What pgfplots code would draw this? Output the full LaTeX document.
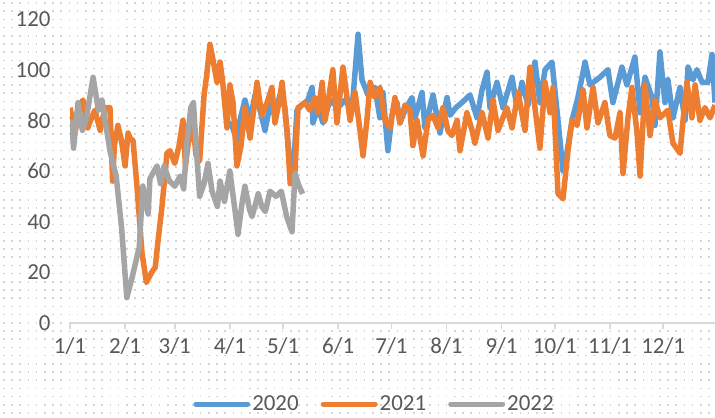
\documentclass[border=0pt]{standalone}
\usepackage{pgfplots}
\pgfplotsset{compat=1.18}
\usepackage{fontspec}
\setmainfont{Carlito}
\definecolor{c2020}{HTML}{5B9BD5}
\definecolor{c2021}{HTML}{ED7D31}
\definecolor{c2022}{HTML}{A5A5A5}
\definecolor{txt}{HTML}{595959}
\definecolor{axl}{HTML}{D9D9D9}
\definecolor{dotc}{HTML}{D4D4D4}
\begin{document}
\begin{tikzpicture}[x=1bp,y=1bp]
\useasboundingbox (0,0) rectangle (715,417);
\fill[white] (0,0) rectangle (715,417);
\foreach \r in {0,...,51}{
  \draw[dotc, line width=1.6bp, dash pattern=on 1.6bp off 6.6bp] (3,{4+\r*8.2}) -- (715,{4+\r*8.2});
}
\begin{axis}[
  at={(70bp,94bp)}, anchor=south west,
  scale only axis, width=645bp, height=304bp,
  xmin=0, xmax=363.2, ymin=0, ymax=120,
  axis lines=left,
  x axis line style={axl, line width=1.5bp, -},
  y axis line style={draw=none},
  xtick={0,31,59,90,120,151,181,212,243,273,304,334},
  xticklabels={1/1,2/1,3/1,4/1,5/1,6/1,7/1,8/1,9/1,10/1,11/1,12/1},
  ytick={0,20,40,60,80,100,120},
  tick align=outside,
  x tick style={axl, line width=1.5bp},
  major tick length=6bp,
  y tick style={draw=none},
  tick label style={font=\fontsize{23}{27}\selectfont, text=txt},
  /pgf/number format/assume math mode=true,
  yticklabel style={anchor=east, xshift=-10bp},
  xticklabel style={yshift=-5bp},
  legend columns=3,
  legend style={draw=none, fill=none, at={(0.472,0)}, anchor=center, yshift=-81bp,
    font=\fontsize{23}{27}\selectfont, text=txt, inner sep=0pt,
    nodes={inner sep=2bp},
    /tikz/every even column/.append style={column sep=20bp}},
  legend image code/.code={\draw[#1, line width=5bp, line cap=round] (0bp,0bp) -- (52bp,0bp);},
  every axis plot/.append style={line width=5.5bp, line join=round},
]
\addplot[c2020] coordinates {
(87.3,80)(91.2,78)(94,72)(95.7,80)(98.5,88)(101.4,80)(104.2,90)(107,84)(109.8,76)(112.6,86)(115.4,82)(118.2,90)(121,85)(123.9,62)(125.6,58)(127.8,84)(130.6,86)(134,88)(136.3,93)(136.8,79)(139.6,85)(142.5,79)(146.4,88)(150.9,85)(154.8,88)(158.8,84)(162.2,114)(164.4,96)(167.8,90)(171.7,93)(174.5,81)(176.2,91)(179,68)(181.3,82)(184.1,87)(185.8,79)(188.6,84)(192.6,89)(194.3,81)(198.2,91)(199.9,77)(204.4,90)(208.3,75)(212.3,89)(214,82)(217.3,85)(220.7,87)(225.2,90)(229.2,81)(232,92)(234.8,99)(236.5,85)(240.4,95)(243.8,85)(248.9,97)(251.7,85)(254.5,95)(257.9,86)(261.8,103)(264.6,87)(267.5,100)(271.4,103)(274.2,84)(277.6,60)(279.3,65)(282.7,80)(286,89)(288.9,99)(290,103)(292.8,94)(298.4,97)(302.9,100)(305.7,87)(310.8,101)(313.6,94)(318.1,105)(321,83)(323.8,97)(327.7,89)(329.4,78)(332.2,107)(335,87)(336.7,96)(339.5,81)(343.5,93)(346.3,80)(348,101)(350.8,96)(353,100)(355.9,95)(359.2,95)(361.5,106)(363.2,87)
};
\addlegendentry{2020}
\addplot[c2021] coordinates {
(0,85)(2.8,75)(5.6,86)(7.3,88)(10,77)(11,79)(14,84)(17,76)(19.7,85)(22.5,85)(24,56)(25,70)(27,78)(29,72)(31,62)(32.7,75)(33.8,73)(35.5,72)(37.7,54)(40.5,28)(43,16)(46,20)(48,22)(49.5,32)(51.8,46)(54.6,67)(56.3,68)(59,63)(61.4,70)(63.6,80)(65,62)(66.4,70)(69,80)(71,66)(73,64)(75.5,90)(77,98)(78.8,110)(80.5,104)(82.8,95)(84.5,103)(86,95)(88.4,77)(90,94)(91.8,87)(94,62)(96.3,70)(98.5,85)(101.4,73)(103.6,85)(105.3,95)(108,82)(111,87)(113.7,93)(115.4,79)(117.7,87)(119.4,95)(122.2,76)(124,55)(126.7,60)(128.4,85)(132.3,87)(135,84)(138,89)(139.6,83)(142,95)(143.6,80)(145.3,87)(148,100)(150.3,79)(153.7,101)(157.7,80)(160.5,91)(163.3,76)(165,66)(167.2,80)(169,95)(171.7,89)(174.5,93)(177.4,80)(180.2,77)(183,89)(185.8,79)(188.6,86)(191.4,84)(193.1,70)(195.4,80)(198.8,66)(201.6,80)(204.4,82)(207.2,77)(210,85)(212.8,76)(215,74)(218,80)(219.6,68)(223.5,83)(226.4,76)(228,71)(232,83)(235.4,73)(238.2,88)(241,76)(246,85)(248.9,77)(252.3,91)(256.2,76)(259,101)(261.8,85)(264.6,69)(267.5,95)(270.3,83)(272,93)(274.8,51)(277.6,49)(280.4,68)(282.7,80)(285.5,78)(288.9,92)(291.1,77)(294.5,93)(297.3,79)(301.2,87)(304,74)(306.9,73)(309.7,83)(311.4,59)(314.2,81)(316.4,93)(319.3,75)(321,58)(323.8,94)(326.6,74)(329.4,88)(332.2,81)(336.7,84)(339.5,71)(343.5,67)(345.2,80)(347.4,95)(350.2,81)(352,94)(354.7,80)(357.5,85)(360.4,81)(363.2,86)
};
\addlegendentry{2021}
\addplot[c2022] coordinates {
(0,72)(1,79)(2,69)(4.5,87)(7,76)(9,80)(13,97)(16,84)(18,88)(20,79)(22.5,68)(26,58)(29,38)(32,10)(35,18)(39,30)(41,54)(44,43)(45,57)(49,62)(51,55)(53,62)(56,56)(59,54)(62,58)(64,53)(66,72)(68,85)(69.5,87)(71,70)(73,50)(75.5,55)(77.7,63)(80,52)(83,46)(84.5,56)(87,48)(90,60)(93,44)(94.6,35)(97,48)(98.5,54)(101,45)(102.5,42)(106,51)(108,46)(110,44)(112.6,52)(116,50)(119,52)(122,42)(125,36)(126.7,59)(129,54)(131,51)
};
\addlegendentry{2022}
\end{axis}
\end{tikzpicture}
\end{document}
